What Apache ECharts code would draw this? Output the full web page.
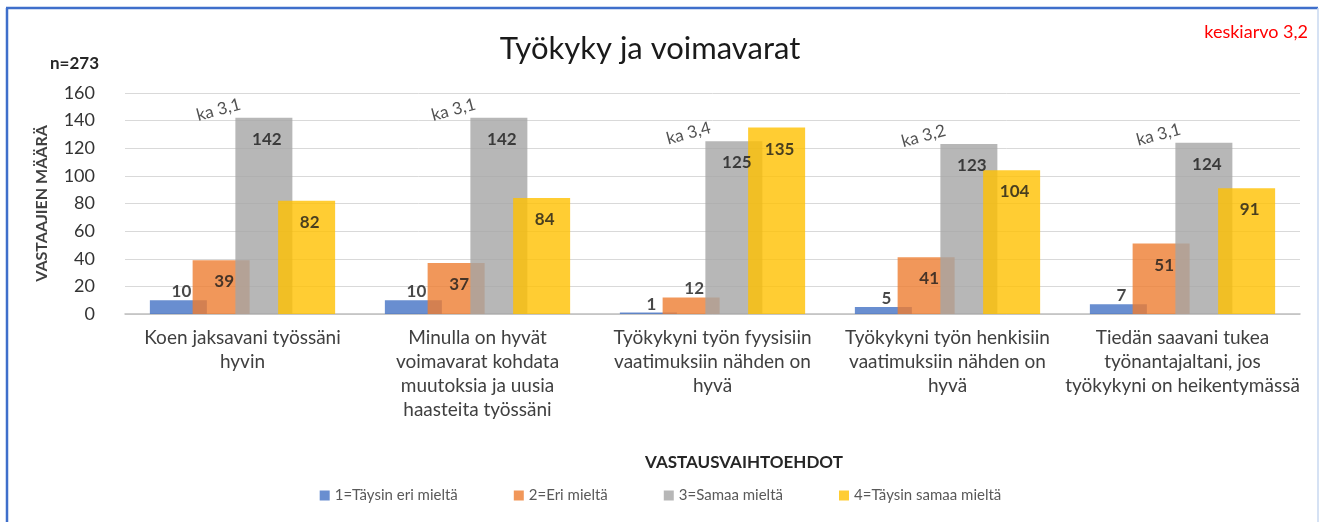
<!DOCTYPE html>
<html><head><meta charset="utf-8">
<script src="https://cdn.jsdelivr.net/npm/echarts@6/dist/echarts.min.js"></script>
<style>html,body{margin:0;padding:0;background:#fff}#c{width:1321px;height:522px}</style>
</head><body><div id="c"></div>
<script>
const categories = [
  "Koen jaksavani työssäni\nhyvin",
  "Minulla on hyvät\nvoimavarat kohdata\nmuutoksia ja uusia\nhaasteita työssäni",
  "Työkykyni työn fyysisiin\nvaatimuksiin nähden on\nhyvä",
  "Työkykyni työn henkisiin\nvaatimuksiin nähden on\nhyvä",
  "Tiedän saavani tukea\ntyönantajaltani, jos\ntyökykyni on heikentymässä"
];
const seriesNames = ["1=Täysin eri mieltä", "2=Eri mieltä", "3=Samaa mieltä", "4=Täysin samaa mieltä"];
const s1 = [10, 10, 1, 5, 7];
const s2 = [39, 37, 12, 41, 51];
const s3 = [142, 142, 125, 123, 124];
const s4 = [82, 84, 135, 104, 91];
const kaLabels = ["ka 3,1", "ka 3,1", "ka 3,4", "ka 3,2", "ka 3,1"];
const yMin = 0, yMax = 160, yStep = 20;

const colors = ["#4472C4", "#ED7D31", "#A5A5A5", "#FFC000"];
const FONT = "Lato";

function barData(vals) {
  return vals.map(v => v < 20
    ? { value: v, label: { position: "top", distance: 0 } }
    : { value: v });
}
function barSeries(i, vals) {
  return {
    name: seriesNames[i], type: "bar", data: barData(vals),
    barWidth: 57, barGap: "-25%",
    itemStyle: { color: colors[i], opacity: 0.8 },
    label: { show: true, position: "insideTop", distance: 13, offset: [3, 0],
      fontFamily: FONT, fontSize: 17, fontWeight: "bold", color: "#1a1a1a" }
  };
}

const chart = echarts.init(document.getElementById("c"), null, { renderer: "canvas" });
chart.setOption({
  animation: false,
  backgroundColor: "#fff",
  textStyle: { fontFamily: FONT },
  title: [
    { text: "Työkyky ja voimavarat", left: 645, top: 28, textAlign: "center",
      textStyle: { fontFamily: FONT, fontSize: 31, fontWeight: "normal", color: "#1a1a1a" } },
    { text: "n=273", left: 45, top: 50,
      textStyle: { fontFamily: FONT, fontSize: 17, fontWeight: "bold", color: "#262626" } },
    { text: "keskiarvo 3,2", right: 8, top: 18,
      textStyle: { fontFamily: FONT, fontSize: 18, fontWeight: "normal", color: "#FF0000" } },
    { text: "VASTAUSVAIHTOEHDOT", left: 739, top: 449, textAlign: "center",
      textStyle: { fontFamily: FONT, fontSize: 17, fontWeight: "bold", color: "#262626" } }
  ],
  legend: {
    data: seriesNames, left: "center", top: 483,
    icon: "rect", itemWidth: 10, itemHeight: 10, itemGap: 56,
    textStyle: { fontFamily: FONT, fontSize: 15, color: "#595959" }
  },
  grid: { left: 125, right: 21, top: 93, bottom: 208 },
  xAxis: {
    type: "category", data: categories,
    axisTick: { show: false },
    axisLine: { lineStyle: { color: "#BFBFBF", width: 1.5 } },
    axisLabel: { interval: 0, fontFamily: FONT, fontSize: 19, color: "#404040", lineHeight: 24, margin: 12 }
  },
  yAxis: {
    type: "value", min: yMin, max: yMax, interval: yStep,
    name: "VASTAAJIEN MÄÄRÄ", nameLocation: "middle", nameGap: 75,
    nameTextStyle: { fontFamily: FONT, fontSize: 16, fontWeight: "bold", color: "#404040" },
    axisLine: { show: false }, axisTick: { show: false },
    splitLine: { lineStyle: { color: "#D9D9D9", width: 1 } },
    axisLabel: { fontFamily: FONT, fontSize: 18, color: "#333", margin: 30 }
  },
  series: [
    barSeries(0, s1), barSeries(1, s2), barSeries(2, s3), barSeries(3, s4),
    {
      type: "scatter", data: s3, symbolSize: 1, silent: true,
      itemStyle: { color: "transparent" }, z: 5,
      label: { show: true, position: "inside", offset: [-21, -14], rotate: 15,
        formatter: p => kaLabels[p.dataIndex],
        fontFamily: FONT, fontSize: 17, color: "#262626" }
    }
  ],
  graphic: [
    { type: "line", shape: { x1: 6, y1: 8, x2: 1318, y2: 8 }, style: { stroke: "#3F6FCB", lineWidth: 2.5 } },
    { type: "line", shape: { x1: 7, y1: 8, x2: 7, y2: 522 }, style: { stroke: "#3F6FCB", lineWidth: 2.5 } },
    { type: "line", shape: { x1: 1318, y1: 8, x2: 1318, y2: 522 }, style: { stroke: "#C9D8F0", lineWidth: 1.5 } }
  ]
});
</script></body></html>
